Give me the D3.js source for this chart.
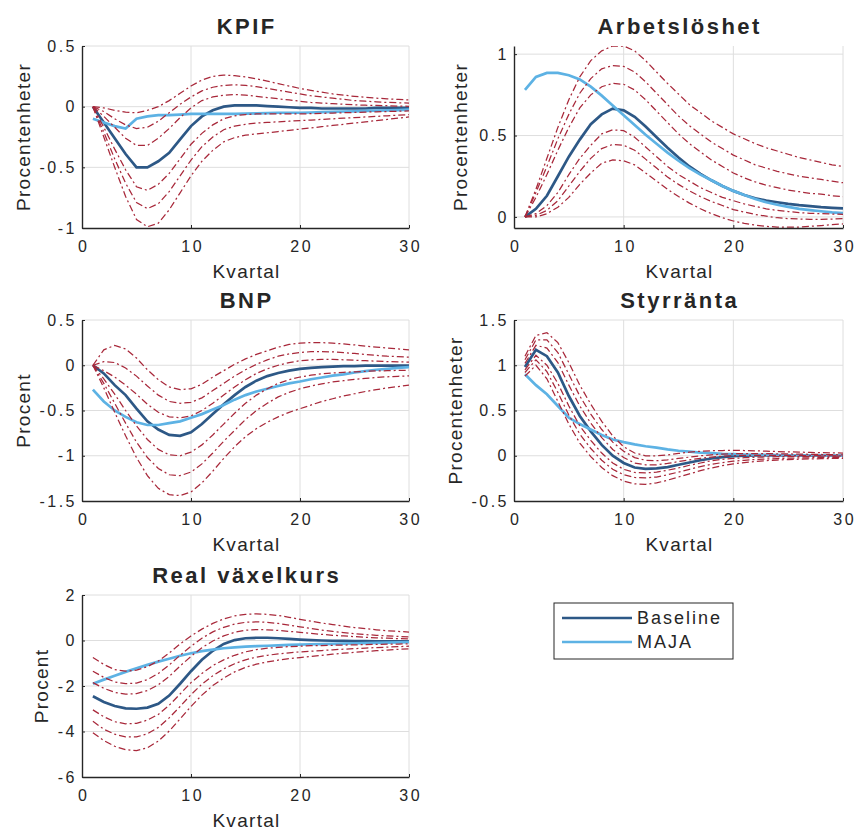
<!DOCTYPE html>
<html>
<head>
<meta charset="utf-8">
<script src="https://cdn.jsdelivr.net/npm/d3@7"></script>
<style>
  body { margin: 0; background: #fff; }
  text { font-family: "Liberation Sans", Arial, sans-serif; fill: #262626; }
</style>
</head>
<body>
<div id="chart"></div>
<script>
const quarters = [1,2,3,4,5,6,7,8,9,10,11,12,13,14,15,16,17,18,19,20,21,22,23,24,25,26,27,28,29,30]
const xTicks = [0, 10, 20, 30]
const seriesNames = ['Baseline', 'MAJA']

// KPIF
const kpifBase = [0,-0.13,-0.26,-0.39,-0.5,-0.5,-0.45,-0.38,-0.27,-0.16,-0.08,-0.03,0,0.01,0.01,0.01,0.005,0,-0.005,-0.01,-0.01,-0.015,-0.015,-0.015,-0.015,-0.015,-0.01,-0.01,-0.01,-0.01]
const kpifMaja = [-0.1,-0.13,-0.16,-0.18,-0.1,-0.08,-0.07,-0.07,-0.065,-0.06,-0.06,-0.06,-0.06,-0.06,-0.058,-0.055,-0.053,-0.05,-0.05,-0.05,-0.048,-0.045,-0.043,-0.04,-0.038,-0.035,-0.033,-0.03,-0.028,-0.025]
const kpifBands = [
  [0,-0.01,-0.03,-0.045,-0.05,-0.03,0,0.05,0.11,0.17,0.22,0.25,0.26,0.255,0.245,0.23,0.21,0.19,0.17,0.15,0.135,0.12,0.105,0.095,0.085,0.077,0.07,0.065,0.06,0.055],
  [0,-0.04,-0.1,-0.15,-0.18,-0.17,-0.12,-0.05,0.02,0.08,0.13,0.16,0.175,0.18,0.175,0.165,0.15,0.135,0.12,0.105,0.09,0.08,0.07,0.06,0.05,0.045,0.04,0.035,0.032,0.03],
  [0,-0.08,-0.17,-0.26,-0.32,-0.32,-0.26,-0.18,-0.09,-0.01,0.05,0.08,0.095,0.1,0.095,0.085,0.075,0.065,0.055,0.045,0.035,0.03,0.025,0.02,0.015,0.012,0.01,0.008,0.005,0.003],
  [0,-0.17,-0.35,-0.52,-0.66,-0.69,-0.64,-0.55,-0.43,-0.31,-0.22,-0.15,-0.1,-0.075,-0.065,-0.06,-0.06,-0.06,-0.06,-0.06,-0.058,-0.055,-0.053,-0.05,-0.048,-0.045,-0.042,-0.04,-0.038,-0.035],
  [0,-0.21,-0.43,-0.63,-0.79,-0.84,-0.8,-0.7,-0.57,-0.44,-0.33,-0.25,-0.19,-0.16,-0.145,-0.135,-0.13,-0.125,-0.12,-0.115,-0.11,-0.105,-0.1,-0.095,-0.09,-0.085,-0.08,-0.075,-0.07,-0.065],
  [0,-0.25,-0.5,-0.74,-0.93,-0.99,-0.96,-0.85,-0.71,-0.57,-0.45,-0.36,-0.29,-0.255,-0.235,-0.225,-0.215,-0.205,-0.195,-0.185,-0.175,-0.165,-0.155,-0.145,-0.135,-0.125,-0.115,-0.105,-0.095,-0.085]
]

// Arbetslöshet
const arbBase = [0,0.05,0.13,0.25,0.37,0.475,0.57,0.63,0.665,0.655,0.615,0.555,0.49,0.425,0.365,0.31,0.265,0.225,0.19,0.16,0.135,0.115,0.1,0.09,0.08,0.072,0.066,0.06,0.056,0.052]
const arbMaja = [0.78,0.86,0.885,0.885,0.87,0.845,0.8,0.745,0.685,0.625,0.565,0.505,0.45,0.395,0.345,0.3,0.26,0.225,0.19,0.16,0.135,0.11,0.09,0.075,0.062,0.05,0.042,0.035,0.028,0.023]
const arbBands = [
  [0,0.17,0.36,0.55,0.72,0.86,0.96,1.02,1.05,1.05,1.02,0.96,0.89,0.82,0.755,0.69,0.64,0.59,0.55,0.51,0.48,0.45,0.425,0.405,0.385,0.365,0.35,0.335,0.32,0.31],
  [0,0.15,0.31,0.48,0.63,0.76,0.85,0.91,0.93,0.925,0.89,0.83,0.76,0.69,0.62,0.56,0.51,0.46,0.42,0.38,0.35,0.32,0.3,0.28,0.265,0.25,0.24,0.23,0.22,0.21],
  [0,0.12,0.26,0.41,0.55,0.67,0.75,0.8,0.82,0.815,0.78,0.72,0.65,0.58,0.51,0.45,0.4,0.35,0.31,0.27,0.24,0.215,0.195,0.18,0.165,0.155,0.145,0.14,0.13,0.125],
  [0,0.02,0.07,0.15,0.26,0.36,0.44,0.51,0.535,0.53,0.49,0.43,0.37,0.31,0.26,0.22,0.18,0.15,0.12,0.1,0.08,0.065,0.05,0.04,0.033,0.027,0.022,0.02,0.018,0.016],
  [0,0.01,0.04,0.1,0.19,0.28,0.36,0.42,0.445,0.44,0.41,0.355,0.3,0.245,0.2,0.16,0.125,0.095,0.07,0.045,0.03,0.015,0.005,-0.005,-0.01,-0.013,-0.015,-0.015,-0.013,-0.01],
  [0,0,0.02,0.06,0.12,0.2,0.27,0.33,0.35,0.345,0.32,0.27,0.22,0.17,0.125,0.085,0.05,0.02,-0.005,-0.025,-0.04,-0.05,-0.058,-0.062,-0.063,-0.062,-0.058,-0.053,-0.048,-0.043]
]

// BNP
const bnpBase = [0,-0.09,-0.22,-0.33,-0.48,-0.62,-0.71,-0.77,-0.78,-0.74,-0.65,-0.54,-0.43,-0.33,-0.24,-0.17,-0.12,-0.085,-0.06,-0.04,-0.03,-0.02,-0.015,-0.01,-0.01,-0.005,-0.005,-0.005,-0.005,-0.005]
const bnpMaja = [-0.27,-0.4,-0.5,-0.57,-0.63,-0.66,-0.66,-0.64,-0.62,-0.58,-0.54,-0.49,-0.44,-0.38,-0.33,-0.29,-0.26,-0.23,-0.2,-0.18,-0.155,-0.135,-0.115,-0.1,-0.08,-0.065,-0.05,-0.04,-0.03,-0.02]
const bnpBands = [
  [0,0.17,0.22,0.18,0.08,-0.05,-0.16,-0.24,-0.27,-0.26,-0.21,-0.13,-0.06,0.01,0.07,0.12,0.16,0.2,0.23,0.245,0.25,0.25,0.245,0.235,0.225,0.21,0.2,0.19,0.18,0.17],
  [0,0.04,0.03,-0.03,-0.12,-0.23,-0.33,-0.4,-0.42,-0.41,-0.36,-0.28,-0.2,-0.12,-0.05,0.01,0.06,0.1,0.125,0.14,0.15,0.15,0.148,0.14,0.13,0.12,0.11,0.1,0.095,0.09],
  [0,-0.06,-0.13,-0.22,-0.32,-0.43,-0.52,-0.57,-0.58,-0.56,-0.5,-0.42,-0.33,-0.24,-0.16,-0.09,-0.04,0,0.03,0.05,0.06,0.065,0.065,0.06,0.055,0.05,0.045,0.04,0.037,0.035],
  [0,-0.15,-0.32,-0.5,-0.67,-0.82,-0.93,-0.99,-1,-0.96,-0.88,-0.77,-0.65,-0.53,-0.42,-0.33,-0.26,-0.2,-0.16,-0.13,-0.11,-0.095,-0.085,-0.078,-0.072,-0.067,-0.063,-0.06,-0.057,-0.055],
  [0,-0.2,-0.42,-0.64,-0.85,-1.02,-1.14,-1.21,-1.22,-1.18,-1.09,-0.97,-0.84,-0.72,-0.6,-0.5,-0.42,-0.35,-0.3,-0.26,-0.23,-0.205,-0.185,-0.17,-0.155,-0.145,-0.135,-0.128,-0.122,-0.117],
  [0,-0.25,-0.52,-0.78,-1.02,-1.22,-1.36,-1.43,-1.44,-1.4,-1.3,-1.17,-1.03,-0.9,-0.79,-0.7,-0.63,-0.57,-0.52,-0.48,-0.44,-0.4,-0.37,-0.34,-0.315,-0.29,-0.27,-0.25,-0.235,-0.22]
]

// Styrränta
const styBase = [0.98,1.17,1.1,0.92,0.66,0.44,0.27,0.12,0,-0.08,-0.13,-0.145,-0.14,-0.125,-0.1,-0.075,-0.05,-0.03,-0.015,-0.005,0,0.005,0.005,0.005,0.004,0.003,0.002,0.001,0,0]
const styMaja = [0.9,0.78,0.68,0.55,0.42,0.35,0.29,0.23,0.18,0.15,0.125,0.105,0.09,0.07,0.055,0.045,0.035,0.03,0.022,0.018,0.014,0.011,0.009,0.007,0.005,0.004,0.003,0.002,0.001,0]
const styBands = [
  [1.1,1.33,1.36,1.25,1.03,0.78,0.57,0.38,0.22,0.1,0.03,0,0,0.01,0.025,0.04,0.05,0.055,0.058,0.06,0.058,0.055,0.05,0.047,0.043,0.04,0.037,0.034,0.032,0.03],
  [1.06,1.28,1.28,1.14,0.9,0.66,0.46,0.29,0.15,0.05,-0.02,-0.05,-0.055,-0.045,-0.03,-0.015,0,0.01,0.018,0.022,0.024,0.024,0.023,0.022,0.02,0.018,0.016,0.014,0.012,0.01],
  [1.02,1.22,1.19,1.03,0.78,0.55,0.36,0.2,0.07,-0.02,-0.08,-0.1,-0.1,-0.085,-0.065,-0.045,-0.028,-0.015,-0.005,0,0.003,0.004,0.004,0.004,0.003,0.002,0.002,0.001,0,0],
  [0.95,1.11,1,0.8,0.55,0.33,0.17,0.03,-0.08,-0.15,-0.185,-0.19,-0.18,-0.16,-0.135,-0.105,-0.08,-0.055,-0.04,-0.03,-0.022,-0.017,-0.013,-0.01,-0.008,-0.007,-0.006,-0.005,-0.005,-0.005],
  [0.92,1.06,0.93,0.7,0.45,0.24,0.08,-0.05,-0.15,-0.21,-0.24,-0.245,-0.235,-0.21,-0.18,-0.15,-0.12,-0.095,-0.075,-0.06,-0.05,-0.042,-0.036,-0.031,-0.027,-0.024,-0.022,-0.02,-0.018,-0.017],
  [0.88,1,0.85,0.6,0.35,0.14,-0.01,-0.13,-0.22,-0.28,-0.31,-0.315,-0.3,-0.27,-0.235,-0.2,-0.165,-0.135,-0.11,-0.09,-0.075,-0.063,-0.054,-0.047,-0.042,-0.038,-0.035,-0.032,-0.03,-0.028]
]

// Real växelkurs
const realBase = [-2.45,-2.7,-2.88,-2.98,-3,-2.95,-2.78,-2.42,-1.9,-1.35,-0.85,-0.45,-0.15,0.02,0.1,0.12,0.12,0.1,0.07,0.04,0.02,0,-0.01,-0.02,-0.03,-0.03,-0.04,-0.04,-0.04,-0.04]
const realMaja = [-1.9,-1.72,-1.55,-1.38,-1.22,-1.07,-0.93,-0.8,-0.67,-0.56,-0.47,-0.4,-0.34,-0.3,-0.27,-0.25,-0.23,-0.21,-0.19,-0.18,-0.165,-0.155,-0.145,-0.135,-0.125,-0.115,-0.105,-0.095,-0.085,-0.075]
const realBands = [
  [-0.75,-1.05,-1.28,-1.35,-1.3,-1.15,-0.9,-0.55,-0.15,0.2,0.5,0.75,0.95,1.08,1.15,1.17,1.15,1.1,1.02,0.93,0.85,0.77,0.7,0.63,0.57,0.52,0.47,0.43,0.4,0.37],
  [-1.35,-1.62,-1.82,-1.9,-1.87,-1.72,-1.45,-1.08,-0.65,-0.25,0.1,0.38,0.58,0.72,0.8,0.82,0.8,0.75,0.68,0.6,0.53,0.46,0.4,0.35,0.3,0.26,0.23,0.2,0.18,0.16],
  [-1.85,-2.1,-2.28,-2.36,-2.33,-2.2,-1.95,-1.58,-1.12,-0.7,-0.32,-0.02,0.2,0.36,0.45,0.48,0.47,0.44,0.4,0.36,0.31,0.27,0.23,0.2,0.17,0.14,0.12,0.1,0.08,0.07],
  [-3.05,-3.35,-3.57,-3.66,-3.64,-3.5,-3.25,-2.85,-2.35,-1.85,-1.45,-1.1,-0.85,-0.65,-0.5,-0.4,-0.34,-0.3,-0.27,-0.25,-0.23,-0.22,-0.21,-0.2,-0.19,-0.18,-0.17,-0.16,-0.155,-0.15],
  [-3.55,-3.9,-4.12,-4.24,-4.24,-4.1,-3.82,-3.4,-2.9,-2.38,-1.92,-1.55,-1.25,-1.02,-0.85,-0.73,-0.65,-0.59,-0.54,-0.5,-0.47,-0.44,-0.41,-0.38,-0.36,-0.33,-0.31,-0.29,-0.27,-0.25],
  [-4.05,-4.4,-4.65,-4.8,-4.84,-4.72,-4.42,-3.98,-3.45,-2.9,-2.4,-1.98,-1.65,-1.38,-1.18,-1.04,-0.94,-0.86,-0.8,-0.75,-0.7,-0.65,-0.6,-0.56,-0.52,-0.48,-0.45,-0.42,-0.39,-0.37]
]

const panels = [
  { title: 'KPIF', ylabel: 'Procentenheter', domain: [-1, 0.5], ticks: [-1, -0.5, 0, 0.5], base: kpifBase, maja: kpifMaja, bands: kpifBands },
  { title: 'Arbetslöshet', ylabel: 'Procentenheter', domain: [-0.068, 1.05], ticks: [0, 0.5, 1], base: arbBase, maja: arbMaja, bands: arbBands },
  { title: 'BNP', ylabel: 'Procent', domain: [-1.5, 0.5], ticks: [-1.5, -1, -0.5, 0, 0.5], base: bnpBase, maja: bnpMaja, bands: bnpBands },
  { title: 'Styrränta', ylabel: 'Procentenheter', domain: [-0.5, 1.5], ticks: [-0.5, 0, 0.5, 1, 1.5], base: styBase, maja: styMaja, bands: styBands },
  { title: 'Real växelkurs', ylabel: 'Procent', domain: [-6, 2], ticks: [-6, -4, -2, 0, 2], base: realBase, maja: realMaja, bands: realBands }
]

// layout (pixels)
const cols = [{ left: 82, right: 409 }, { left: 514, right: 843 }]
const rows = [{ top: 46, bottom: 228 }, { top: 320, bottom: 501 }, { top: 595, bottom: 777 }]
const ylabelX = [30, 467, 30, 462, 48]

const baseColor = '#2d5886'
const majaColor = '#5db2e4'
const bandColor = '#a8283a'
const gridColor = '#dedede'
const fontFamily = '"Liberation Sans", Arial, sans-serif'

const svg = d3.select('#chart').append('svg')
  .attr('width', 857)
  .attr('height', 830)

panels.forEach((p, i) => {

  let c = cols[i % 2], r = rows[Math.floor(i / 2)]

  let x = d3.scaleLinear().domain([0, 30]).range([c.left, c.right])
  let y = d3.scaleLinear().domain(p.domain).range([r.bottom, r.top])

  let g = svg.append('g')

  // grid
  g.selectAll('.gx').data(xTicks.slice(1)).join('line')
    .attr('x1', d => x(d)).attr('x2', d => x(d))
    .attr('y1', r.top).attr('y2', r.bottom)
    .attr('stroke', gridColor).attr('stroke-width', 1)

  g.selectAll('.gy').data(p.ticks.filter(t => y(t) < r.bottom - 1)).join('line')
    .attr('x1', c.left).attr('x2', c.right)
    .attr('y1', d => y(d)).attr('y2', d => y(d))
    .attr('stroke', gridColor).attr('stroke-width', 1)

  // lines
  let clipId = 'clip' + i
  svg.append('clipPath').attr('id', clipId).append('rect')
    .attr('x', c.left).attr('y', r.top)
    .attr('width', c.right - c.left).attr('height', r.bottom - r.top)

  let line = d3.line()
    .x((d, k) => x(quarters[k]))
    .y(d => y(d))

  let lines = g.append('g').attr('clip-path', 'url(#' + clipId + ')')

  lines.append('path').datum(p.base)
    .attr('d', line).attr('fill', 'none')
    .attr('stroke', baseColor).attr('stroke-width', 2.7)

  lines.append('path').datum(p.maja)
    .attr('d', line).attr('fill', 'none')
    .attr('stroke', majaColor).attr('stroke-width', 2.7)

  lines.selectAll('.band').data(p.bands).join('path')
    .attr('d', line).attr('fill', 'none')
    .attr('stroke', bandColor).attr('stroke-width', 1.25)
    .attr('stroke-dasharray', '7,3,2,3')

  // axes
  let xAxis = d3.axisBottom(x).tickValues(xTicks).tickSizeInner(-3).tickSizeOuter(0).tickPadding(13)
  let yAxis = d3.axisLeft(y).tickValues(p.ticks).tickSizeInner(-3).tickSizeOuter(0).tickPadding(5)
    .tickFormat(d => String(d))

  let gx = g.append('g').attr('transform', 'translate(0,' + r.bottom + ')').call(xAxis)
  let gy = g.append('g').attr('transform', 'translate(' + c.left + ',0)').call(yAxis)

  ;[gx, gy].forEach(a => {
    a.select('.domain').attr('stroke', '#262626').attr('stroke-width', 1.4)
    a.selectAll('.tick line').attr('stroke', '#262626')
    a.selectAll('.tick text')
      .attr('fill', '#262626')
      .style('font-family', fontFamily)
      .style('font-size', '16px')
      .style('letter-spacing', '2.5px')
  })
  gx.selectAll('.tick text').attr('dx', '1.2px')

  // labels
  g.append('text')
    .attr('x', (c.left + c.right) / 2 + 1.2)
    .attr('y', r.top - 12)
    .attr('text-anchor', 'middle')
    .style('font-size', '22px')
    .style('font-weight', 'bold')
    .style('letter-spacing', '2.5px')
    .text(p.title)

  g.append('text')
    .attr('x', (c.left + c.right) / 2 + 1)
    .attr('y', r.bottom + 50)
    .attr('text-anchor', 'middle')
    .style('font-size', '19px')
    .style('letter-spacing', '1.3px')
    .text('Kvartal')

  g.append('text')
    .attr('transform', 'translate(' + ylabelX[i] + ',' + (r.top + r.bottom) / 2 + ') rotate(-90)')
    .attr('text-anchor', 'middle')
    .style('font-size', '19px')
    .style('letter-spacing', '1.3px')
    .text(p.ylabel)
})

// legend
const legend = svg.append('g')

legend.append('rect')
  .attr('x', 554).attr('y', 603)
  .attr('width', 179).attr('height', 56)
  .attr('fill', '#fff').attr('stroke', '#262626').attr('stroke-width', 1)

legend.selectAll('.lg-line').data(seriesNames).join('line')
  .attr('x1', 562).attr('x2', 632)
  .attr('y1', (d, k) => 618 + k * 24).attr('y2', (d, k) => 618 + k * 24)
  .attr('stroke', (d, k) => k === 0 ? baseColor : majaColor)
  .attr('stroke-width', 2.7)

legend.selectAll('.lg-text').data(seriesNames).join('text')
  .attr('x', 637)
  .attr('y', (d, k) => 624 + k * 24)
  .style('font-size', '18px')
  .style('letter-spacing', '2px')
  .text(d => d)
</script>
</body>
</html>
